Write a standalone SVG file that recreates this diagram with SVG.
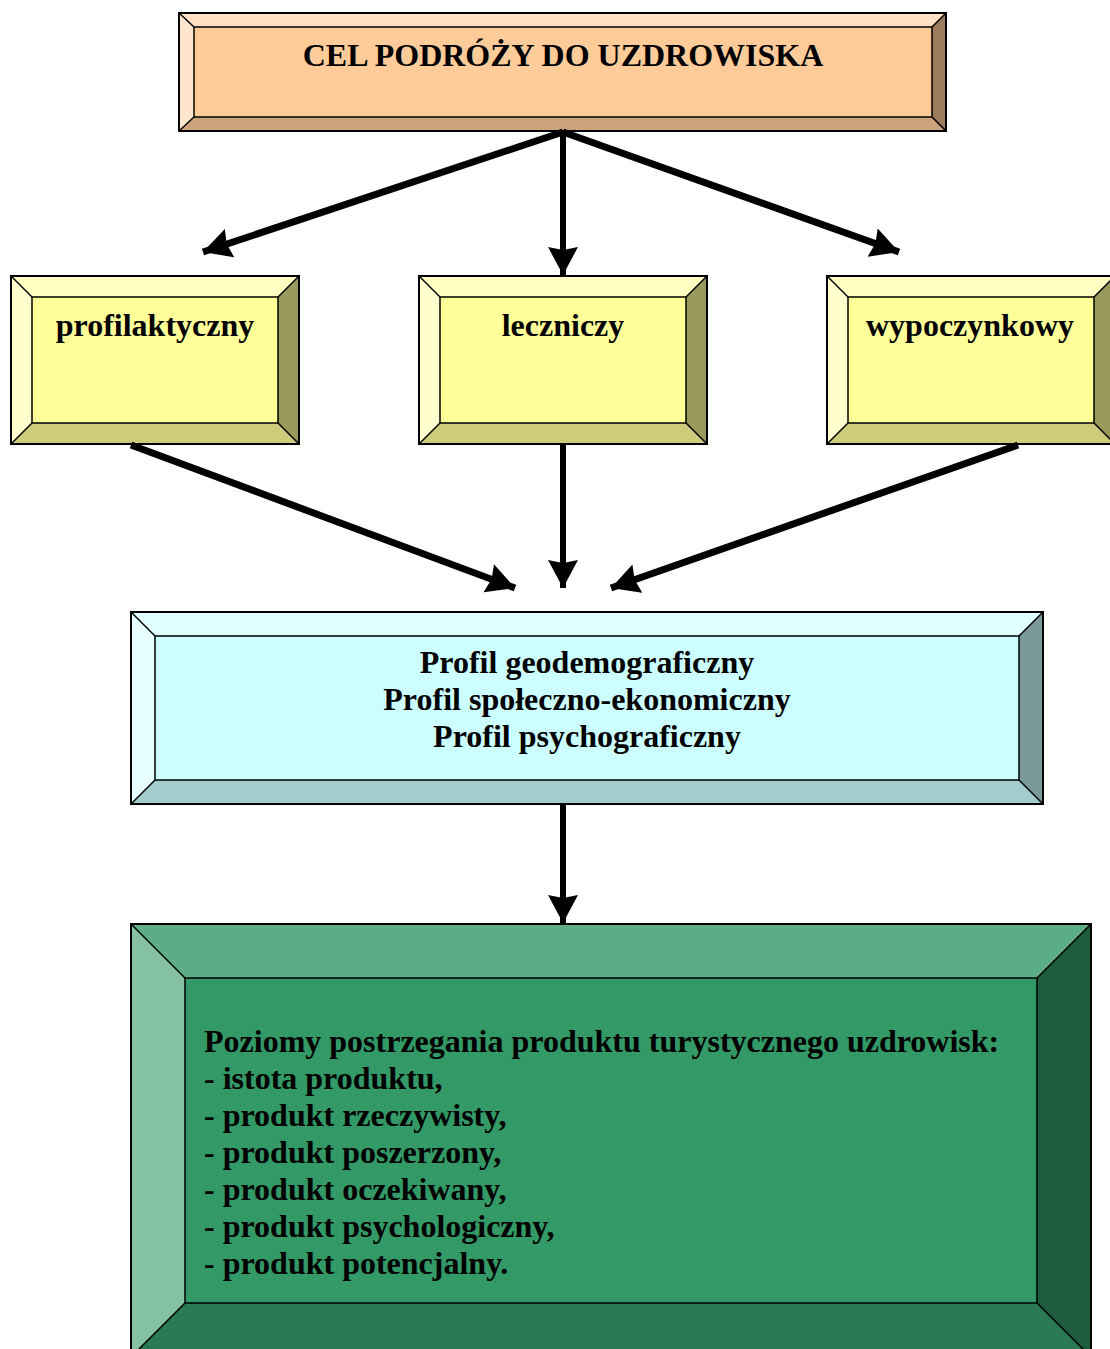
<svg xmlns="http://www.w3.org/2000/svg" width="1110" height="1349" viewBox="0 0 1110 1349">
<style>
  .e { stroke:#000; stroke-width:2; fill:none; }
  .l { stroke:#000; stroke-width:1.5; }
  .t { font-family:"Liberation Serif","Times New Roman",serif; font-weight:bold; font-size:32px; fill:#000; }
  .c { stroke:#000; stroke-width:7; fill:none; }
  .v { stroke-width:6; }
</style>
<defs>
  <marker id="ah" markerUnits="userSpaceOnUse" markerWidth="32" markerHeight="32" refX="28" refY="15" orient="auto">
    <path d="M0,0 L28,15 L0,30 L3,15 Z" fill="#000"/>
  </marker>
</defs>
<rect width="1110" height="1349" fill="#fff"/>

<g id="n-cel">
  <polygon points="179,13 946,13 932,27 194,27" fill="#FFE0C2"/>
  <polygon points="179,13 194,27 194,117 179,131" fill="#FFE5CC"/>
  <polygon points="946,13 946,131 932,117 932,27" fill="#9C7C5C"/>
  <polygon points="179,131 194,117 932,117 946,131" fill="#CCA37A"/>
  <rect x="194" y="27" width="738" height="90" style="fill:#FFCC99" class="l"/>
  <path class="l" d="M179,13 L194,27 M946,13 L932,27 M179,131 L194,117 M946,131 L932,117"/>
  <rect x="179" y="13" width="767" height="118" class="e"/>
  <text class="t" x="563" y="66" text-anchor="middle">CEL PODRÓŻY DO UZDROWISKA</text>
</g>

<g id="n-profilaktyczny">
  <polygon points="11,276 299,276 278,297 32,297" fill="#FFFFC2"/>
  <polygon points="11,276 32,297 32,423 11,444" fill="#FFFFCC"/>
  <polygon points="299,276 299,444 278,423 278,297" fill="#99995C"/>
  <polygon points="11,444 32,423 278,423 299,444" fill="#CCCC7A"/>
  <rect x="32" y="297" width="246" height="126" style="fill:#FFFF99" class="l"/>
  <path class="l" d="M11,276 L32,297 M299,276 L278,297 M11,444 L32,423 M299,444 L278,423"/>
  <rect x="11" y="276" width="288" height="168" class="e"/>
  <text class="t" x="155" y="336" text-anchor="middle">profilaktyczny</text>
</g>

<g id="n-leczniczy">
  <polygon points="419,276 707,276 686,297 440,297" fill="#FFFFC2"/>
  <polygon points="419,276 440,297 440,423 419,444" fill="#FFFFCC"/>
  <polygon points="707,276 707,444 686,423 686,297" fill="#99995C"/>
  <polygon points="419,444 440,423 686,423 707,444" fill="#CCCC7A"/>
  <rect x="440" y="297" width="246" height="126" style="fill:#FFFF99" class="l"/>
  <path class="l" d="M419,276 L440,297 M707,276 L686,297 M419,444 L440,423 M707,444 L686,423"/>
  <rect x="419" y="276" width="288" height="168" class="e"/>
  <text class="t" x="563" y="336" text-anchor="middle">leczniczy</text>
</g>

<g id="n-wypoczynkowy">
  <polygon points="827,276 1115,276 1094,297 848,297" fill="#FFFFC2"/>
  <polygon points="827,276 848,297 848,423 827,444" fill="#FFFFCC"/>
  <polygon points="1115,276 1115,444 1094,423 1094,297" fill="#99995C"/>
  <polygon points="827,444 848,423 1094,423 1115,444" fill="#CCCC7A"/>
  <rect x="848" y="297" width="246" height="126" style="fill:#FFFF99" class="l"/>
  <path class="l" d="M827,276 L848,297 M1115,276 L1094,297 M827,444 L848,423 M1115,444 L1094,423"/>
  <rect x="827" y="276" width="288" height="168" class="e"/>
  <text class="t" x="970" y="336" text-anchor="middle">wypoczynkowy</text>
</g>

<g id="n-profil">
  <polygon points="131,612 1043,612 1019,636 155,636" fill="#E0FFFF"/>
  <polygon points="131,612 155,636 155,780 131,804" fill="#E6FFFF"/>
  <polygon points="1043,612 1043,804 1019,780 1019,636" fill="#7A9999"/>
  <polygon points="131,804 155,780 1019,780 1043,804" fill="#A3CCCC"/>
  <rect x="155" y="636" width="864" height="144" style="fill:#CCFFFF" class="l"/>
  <path class="l" d="M131,612 L155,636 M1043,612 L1019,636 M131,804 L155,780 M1043,804 L1019,780"/>
  <rect x="131" y="612" width="912" height="192" class="e"/>
  <text class="t" x="587" y="673" text-anchor="middle">Profil geodemograficzny</text>
  <text class="t" x="587" y="710" text-anchor="middle">Profil społeczno-ekonomiczny</text>
  <text class="t" x="587" y="747" text-anchor="middle">Profil psychograficzny</text>
</g>

<g id="n-poziomy">
  <polygon points="131,924 1091,924 1037,978 185,978" fill="#5CAD85"/>
  <polygon points="131,924 185,978 185,1303 131,1357" fill="#85C2A3"/>
  <polygon points="1091,924 1091,1357 1037,1303 1037,978" fill="#1F5C3D"/>
  <polygon points="131,1357 185,1303 1037,1303 1091,1357" fill="#297A52"/>
  <rect x="185" y="978" width="852" height="325" style="fill:#339966" class="l"/>
  <path class="l" d="M131,924 L185,978 M1091,924 L1037,978 M131,1357 L185,1303 M1091,1357 L1037,1303"/>
  <rect x="131" y="924" width="960" height="433" class="e"/>
  <text class="t" x="204" y="1052">Poziomy postrzegania produktu turystycznego uzdrowisk:</text>
  <text class="t" x="204" y="1089">- istota produktu,</text>
  <text class="t" x="204" y="1126">- produkt rzeczywisty,</text>
  <text class="t" x="204" y="1163">- produkt poszerzony,</text>
  <text class="t" x="204" y="1200">- produkt oczekiwany,</text>
  <text class="t" x="204" y="1237">- produkt psychologiczny,</text>
  <text class="t" x="204" y="1274">- produkt potencjalny.</text>
</g>

<g id="connectors">
  <line class="c" x1="563" y1="132" x2="203" y2="252" marker-end="url(#ah)"/>
  <line class="c v" x1="563" y1="132" x2="563" y2="275" marker-end="url(#ah)"/>
  <line class="c" x1="563" y1="132" x2="899" y2="252" marker-end="url(#ah)"/>
  <line class="c" x1="131" y1="445" x2="515" y2="588" marker-end="url(#ah)"/>
  <line class="c v" x1="563" y1="445" x2="563" y2="588" marker-end="url(#ah)"/>
  <line class="c" x1="1018" y1="445" x2="611" y2="588" marker-end="url(#ah)"/>
  <line class="c v" x1="563" y1="805" x2="563" y2="923" marker-end="url(#ah)"/>
</g>
</svg>
